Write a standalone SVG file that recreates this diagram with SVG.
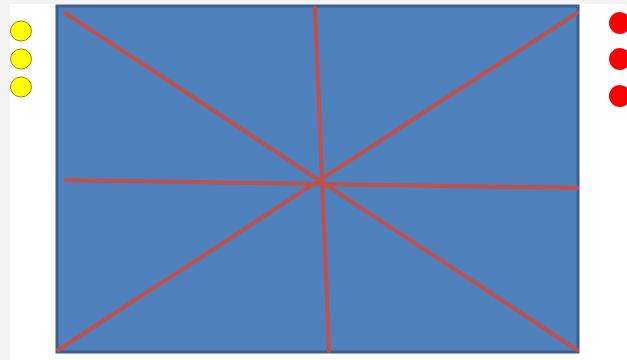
<svg xmlns="http://www.w3.org/2000/svg" width="627" height="360" viewBox="0 0 627 360">
<style>
.ln{stroke:#c0504d;stroke-width:4;stroke-linecap:round;fill:none}
.yc{fill:#ffff00;stroke:#9c8a00;stroke-width:1}
.rc{fill:#ff0000;stroke:none}
</style>
<rect x="0" y="0" width="627" height="360" fill="#f3f3f3"/>
<rect x="10" y="4" width="617" height="356" fill="#ffffff"/>
<g id="board">
<rect x="57" y="6" width="521" height="346" fill="#4f81bd" stroke="#3b5f8e" stroke-width="3"/>
</g>
<g id="connectors">
<line class="ln" x1="65" y1="13" x2="577" y2="350"/>
<line class="ln" x1="577" y1="13" x2="58" y2="350"/>
<line class="ln" x1="315" y1="8" x2="329" y2="351"/>
<line class="ln" x1="66" y1="180" x2="577" y2="188"/>
</g>
<g id="yellow-dots">
<ellipse class="yc" cx="21" cy="31" rx="10.5" ry="10"/>
<ellipse class="yc" cx="21" cy="59" rx="10.5" ry="10"/>
<ellipse class="yc" cx="21" cy="87" rx="10.5" ry="10"/>
</g>
<g id="red-dots">
<circle class="rc" cx="620" cy="23" r="11"/>
<circle class="rc" cx="620" cy="59" r="11"/>
<circle class="rc" cx="620" cy="96" r="11"/>
</g>
</svg>
